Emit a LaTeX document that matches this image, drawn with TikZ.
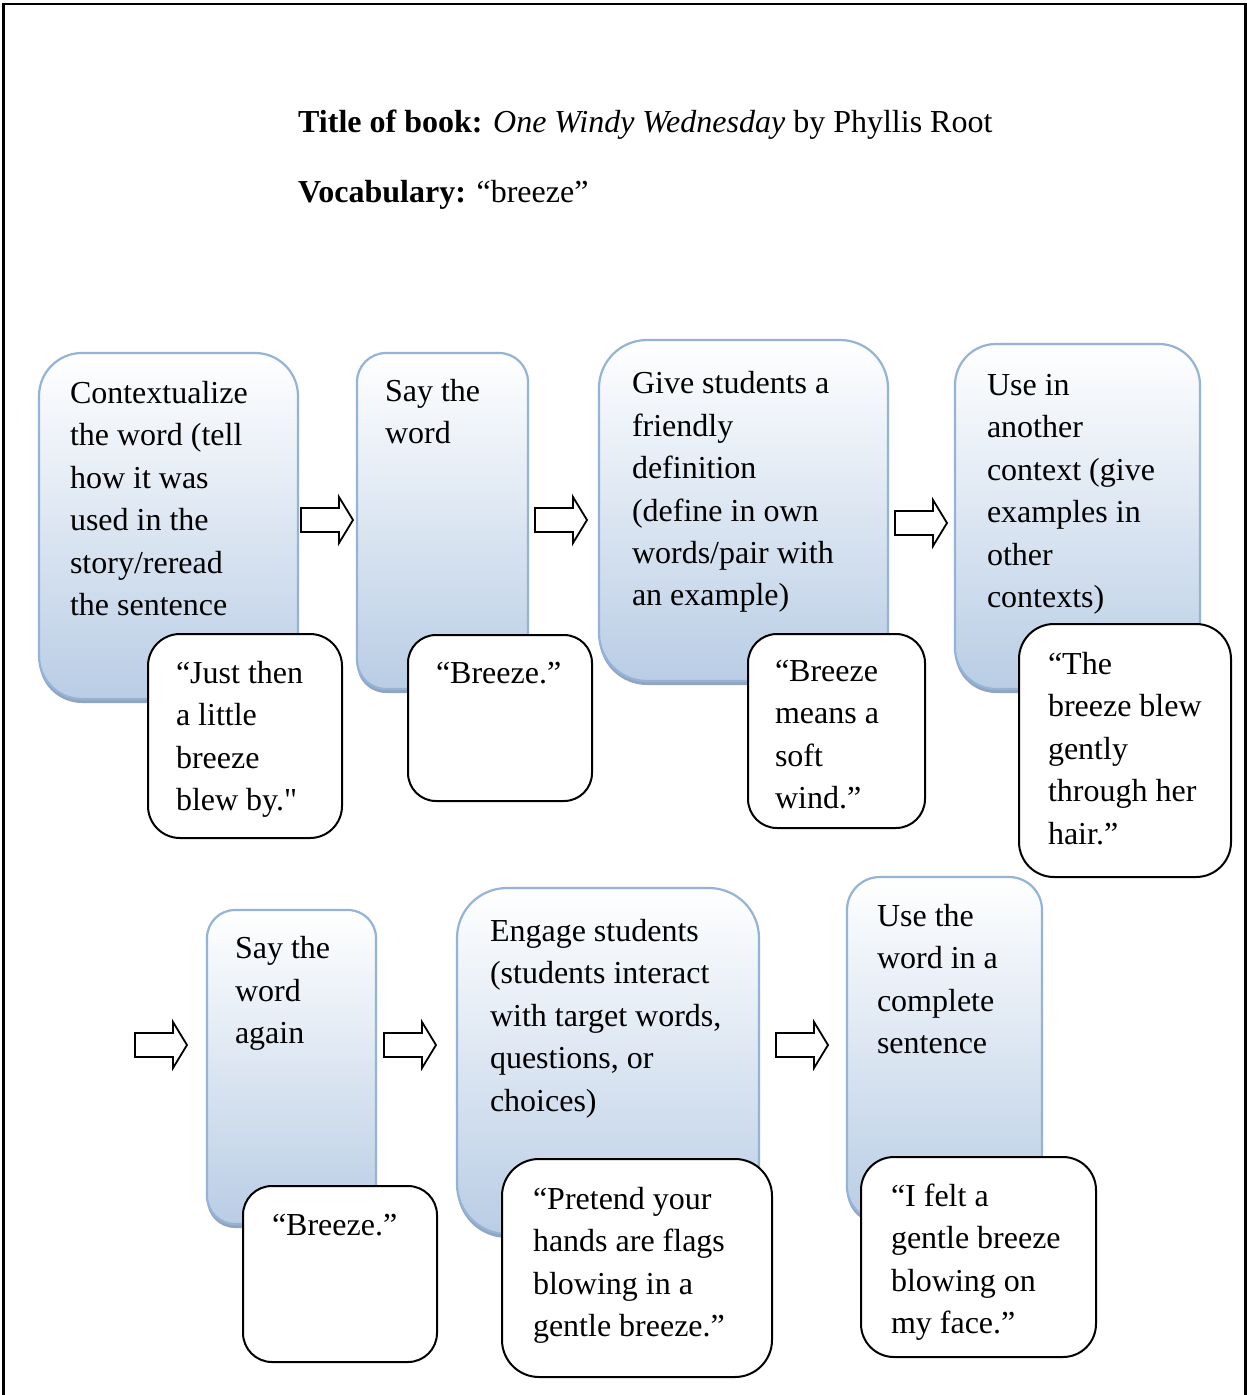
\documentclass[tikz,border=0pt]{standalone}
\usepackage{fontspec}
\setmainfont{Liberation Serif}
\newfontfamily\plainquote[Ligatures=TeXOff]{Liberation Serif}
\usetikzlibrary{shadows}
\definecolor{bfill}{RGB}{185,205,229}
\definecolor{bborder}{RGB}{149,179,215}
\definecolor{bshadow}{RGB}{128,150,182}
\tikzset{
  bluebox/.style={draw=bborder, line width=2.2pt, top color=white, bottom color=bfill,
    inner sep=0pt, outer sep=0pt, anchor=north west,
    drop shadow={shadow xshift=0pt, shadow yshift=-4pt, fill=bshadow, opacity=0.85}},
  whitebox/.style={draw=black, line width=2pt, fill=white, inner sep=0pt, outer sep=0pt, anchor=north west},
  txt/.style={anchor=north west, inner sep=0pt, outer sep=0pt, align=left, font=\fontsize{32}{42.4}\selectfont, yshift=-1.5pt},
  head/.style={anchor=base west, inner sep=0pt, font=\fontsize{32}{42.4}\selectfont},
  blockarrow/.pic={\draw[line width=1.8pt, fill=white, line join=miter]
     (0,-12) -- (38,-12) -- (38,-23) -- (52,0) -- (38,23) -- (38,12) -- (0,12) -- cycle;}
}
\begin{document}
\begin{tikzpicture}[x=1pt,y=-1pt]
\useasboundingbox (0,0) rectangle (1247,1395);
\fill[white] (0,0) rectangle (1247,1395);
% frame
\draw[line width=2.8pt] (3.5,1395) -- (3.5,4) -- (1245.5,4) -- (1245.5,1395);

% heading
\node[head] (title) at (298,132) {\textbf{Title of book:} \textit{One Windy Wednesday} by Phyllis Root};
\node[head] (vocab) at (298,202) {\textbf{Vocabulary:} “breeze”};

% blue boxes, row 1
\node[bluebox, rounded corners=43pt, minimum width=259pt, minimum height=346pt] (b1) at (39,353) {};
\node[txt] (tb1) at (70,372.3) {\strut Contextualize\\the word (tell\\how it was\\used in the\\story/reread\\the sentence};
\node[bluebox, rounded corners=29pt, minimum width=171pt, minimum height=336pt] (b2) at (357,353) {};
\node[txt] (tb2) at (385,370.3) {\strut Say the\\word};
\node[bluebox, rounded corners=48pt, minimum width=289pt, minimum height=341pt] (b3) at (599,340) {};
\node[txt] (tb3) at (632,362.8) {\strut Give students a\\friendly\\definition\\(define in own\\words/pair with\\an example)};
\node[bluebox, rounded corners=41pt, minimum width=245pt, minimum height=345pt] (b4) at (955,344) {};
\node[txt] (tb4) at (987,364.3) {\strut Use in\\another\\context (give\\examples in\\other\\contexts)};

% blue boxes, row 2
\node[bluebox, rounded corners=28pt, minimum width=169pt, minimum height=314pt] (b5) at (207,910) {};
\node[txt] (tb5) at (235,927.8) {\strut Say the\\word\\again};
\node[bluebox, rounded corners=50pt, minimum width=302pt, minimum height=346pt] (b6) at (457,888) {};
\node[txt] (tb6) at (490,910.3) {\strut Engage students\\(students interact\\with target words,\\questions, or\\choices)};
\node[bluebox, rounded corners=33pt, minimum width=195pt, minimum height=343pt] (b7) at (847,877) {};
\node[txt] (tb7) at (877,895.3) {\strut Use the\\word in a\\complete\\sentence};

% block arrows
\pic (a1) at (301,520) {blockarrow};
\pic (a2) at (535,520) {blockarrow};
\pic (a3) at (895,523) {blockarrow};
\pic (a4) at (135,1045) {blockarrow};
\pic (a5) at (384,1045) {blockarrow};
\pic (a6) at (776,1045) {blockarrow};

% white example boxes
\node[whitebox, rounded corners=32pt, minimum width=194pt, minimum height=204pt] (w1) at (148,634) {};
\node[txt] (tw1) at (176,652.3) {\strut “Just then\\a little\\breeze\\blew by.{\plainquote"}};
\node[whitebox, rounded corners=28pt, minimum width=184pt, minimum height=166pt] (w2) at (408,635) {};
\node[txt] (tw2) at (436,652.3) {\strut “Breeze.”};
\node[whitebox, rounded corners=29pt, minimum width=177pt, minimum height=194pt] (w3) at (748,634) {};
\node[txt] (tw3) at (775,650.3) {\strut “Breeze\\means a\\soft\\wind.”};
\node[whitebox, rounded corners=35pt, minimum width=212pt, minimum height=253pt] (w4) at (1019,624) {};
\node[txt] (tw4) at (1048,643.3) {\strut “The\\breeze blew\\gently\\through her\\hair.”};
\node[whitebox, rounded corners=29pt, minimum width=194pt, minimum height=176pt] (w5) at (243,1186) {};
\node[txt] (tw5) at (272,1204.3) {\strut “Breeze.”};
\node[whitebox, rounded corners=37pt, minimum width=270pt, minimum height=218pt] (w6) at (502,1159) {};
\node[txt] (tw6) at (533,1178.3) {\strut “Pretend your\\hands are flags\\blowing in a\\gentle breeze.”};
\node[whitebox, rounded corners=33pt, minimum width=235pt, minimum height=200pt] (w7) at (861,1157) {};
\node[txt] (tw7) at (891,1175.3) {\strut “I felt a\\gentle breeze\\blowing on\\my face.”};
\end{tikzpicture}
\end{document}
